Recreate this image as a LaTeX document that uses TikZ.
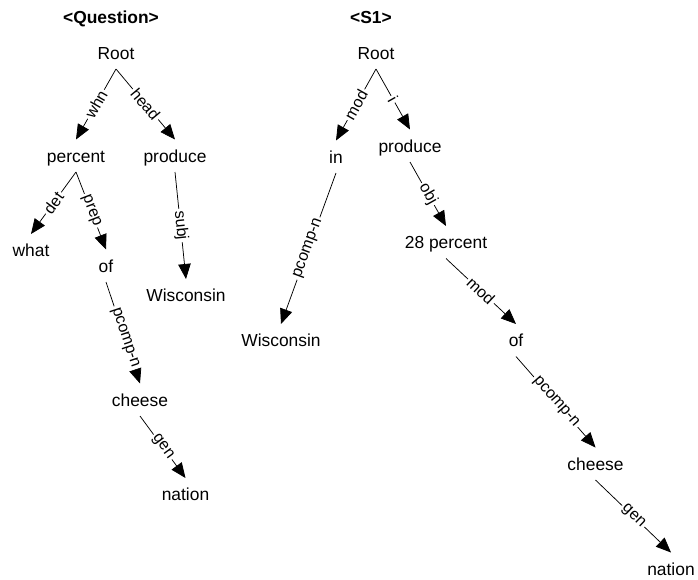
\documentclass[tikz,border=0pt]{standalone}
\usepackage{fontspec}
\setmainfont{Liberation Sans}
\usetikzlibrary{arrows.meta}

\tikzset{
  word/.style={anchor=base, font=\fontsize{17.4}{20}\selectfont,
    text height=17.5pt, text depth=5pt, inner xsep=2pt, inner ysep=5pt, outer sep=0pt},
  title/.style={anchor=base, font=\fontsize{17.4}{20}\selectfont\bfseries, inner sep=0pt},
  dep/.style={draw=black, line width=0.75pt,
    -{Triangle[length=15pt, width=12.5pt]}},
  rel/.style={midway, sloped, fill=white, font=\fontsize{16}{18}\selectfont,
    inner xsep=2pt, inner ysep=0.5pt}
}

\begin{document}
\begin{tikzpicture}[x=1pt, y=-1pt]
\useasboundingbox (0,0) rectangle (698,579);

% question parse
\node[title] (qtitle) at (111,23) {<Question>};
\node[word] (qroot) at (116,59) {Root};
\node[word] (qpercent) at (76,162) {percent};
\node[word] (qproduce) at (175,162) {produce};
\node[word] (qwhat) at (31,256.5) {what};
\node[word] (qof) at (106,272) {of};
\node[word] (qwisc) at (186,301.5) {Wisconsin};
\node[word] (qcheese) at (140,406) {cheese};
\node[word] (qnation) at (185.5,500.5) {nation};

\draw[dep] (qroot.south) -- (qpercent.north) node[rel] {whn};
\draw[dep] (qroot.south) -- (qproduce.north) node[rel] {head};
\draw[dep] (qpercent.south) -- (qwhat.north) node[rel] {det};
\draw[dep] (qpercent.south) -- (qof.north) node[rel] {prep};
\draw[dep] (qproduce.south) -- (qwisc.north) node[rel] {subj};
\draw[dep] (qof.south) -- (qcheese.north) node[rel, pos=0.55] {pcomp-n};
\draw[dep] (qcheese.south) -- (qnation.north) node[rel] {gen};

% sentence S1 parse
\node[title] (stitle) at (371,23) {<S1>};
\node[word] (sroot) at (376,59) {Root};
\node[word] (sin) at (336,163) {in};
\node[word] (sproduce) at (410,152) {produce};
\node[word] (spercent) at (446,248.5) {28 percent};
\node[word] (swisc) at (281,346.5) {Wisconsin};
\node[word] (sof) at (516,346.5) {of};
\node[word] (scheese) at (595.5,470) {cheese};
\node[word] (snation) at (671,575) {nation};

\draw[dep] (sroot.south) -- (sin.north) node[rel] {mod};
\draw[dep] (sroot.south) -- (sproduce.north) node[rel] {i};
\draw[dep] (sin.south) -- (swisc.north) node[rel] {pcomp-n};
\draw[dep] (sproduce.south) -- (spercent.north) node[rel] {obj};
\draw[dep] (spercent.south) -- (sof.north) node[rel] {mod};
\draw[dep] (sof.south) -- (scheese.north) node[rel] {pcomp-n};
\draw[dep] (scheese.south) -- (snation.north) node[rel] {gen};
\end{tikzpicture}
\end{document}
